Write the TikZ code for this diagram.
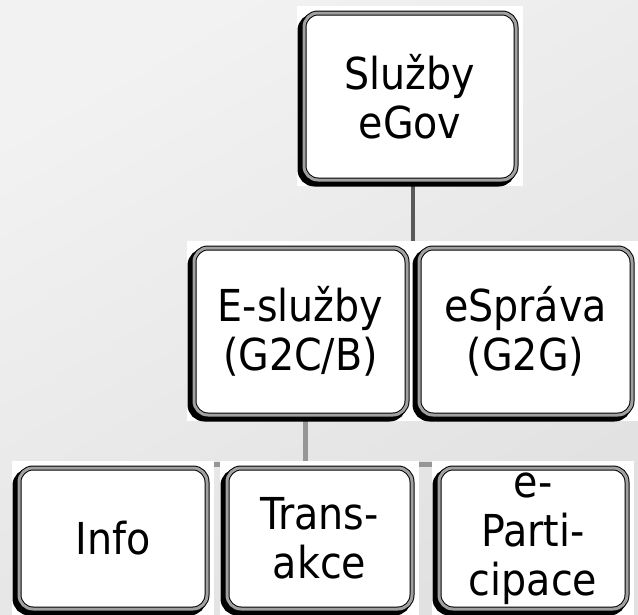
\documentclass[tikz,border=0pt]{standalone}
\usepackage{fontspec}
\setmainfont{DejaVu Sans Condensed}
\usetikzlibrary{calc,backgrounds}
\definecolor{bgtop}{RGB}{242,242,242}
\definecolor{bgbot}{RGB}{225,225,225}
\definecolor{bevel}{RGB}{160,160,160}
\definecolor{linedark}{RGB}{89,89,89}
\definecolor{linelight}{RGB}{150,150,150}
\tikzset{
  box/.style={draw=black, line width=1pt, double=bevel, double distance=3pt,
    fill=white, rounded corners=14pt, align=center, inner sep=0pt,
    font=\fontsize{44}{49}\selectfont,
    preaction={draw=black, line width=6pt, transform canvas={shift={(-3.5pt,-3.5pt)}}}},
  upper/.style={box, minimum width=212pt, minimum height=167pt},
  leaf/.style={box, minimum height=141pt},
  conn/.style={line width=4.5pt, linedark},
  subconn/.style={line width=5pt, linelight}
}
\begin{document}
\begin{tikzpicture}[x=1pt,y=-1pt]
\useasboundingbox (0,0) rectangle (638,614);
\node[upper] (sluzby) at (410,96.5) {Služby\\eGov};
\node[upper, minimum width=213pt] (esluzby) at (300.5,331.5) {E-služby\\(G2C/B)};
\node[upper, minimum width=213pt] (esprava) at (525.5,331.5) {eSpráva\\(G2G)};
\node[leaf, minimum width=188pt] (info) at (113,538.5) {Info};
\node[leaf, minimum width=185pt] (trans) at (319.5,538.5) {Trans-\\akce};
\node[leaf, minimum width=188pt] (epart) at (533,538.5) {e-\\Parti-\\cipace};
\coordinate (hub) at ($(esluzby.north)!0.5!(esprava.north)$);
\coordinate (bus) at ($(esluzby.south)+(5pt,-49pt)$);
\begin{scope}[on background layer]
\shade[top color=bgtop, bottom color=bgbot, shading angle=30] (0,0) rectangle (638,614);
% connectors
\draw[conn] (sluzby.south -| hub) -- (hub) -- (esluzby.north);
\draw[conn] (hub) -- (esprava.north);
\draw[subconn] ($(esluzby.south)+(5pt,0)$) -- (bus);
\draw[subconn] (info.north) -- (info.north |- bus) -- (epart.north |- bus) -- (epart.north);
\draw[subconn] (trans.north) -- (trans.north |- bus);
% white backdrops
\foreach \n in {sluzby,esluzby,esprava,info,trans,epart}
  \fill[white] ($(\n.south west)+(-7pt,-5pt)$) rectangle ($(\n.north east)+(6pt,7pt)$);
\end{scope}
\end{tikzpicture}
\end{document}
